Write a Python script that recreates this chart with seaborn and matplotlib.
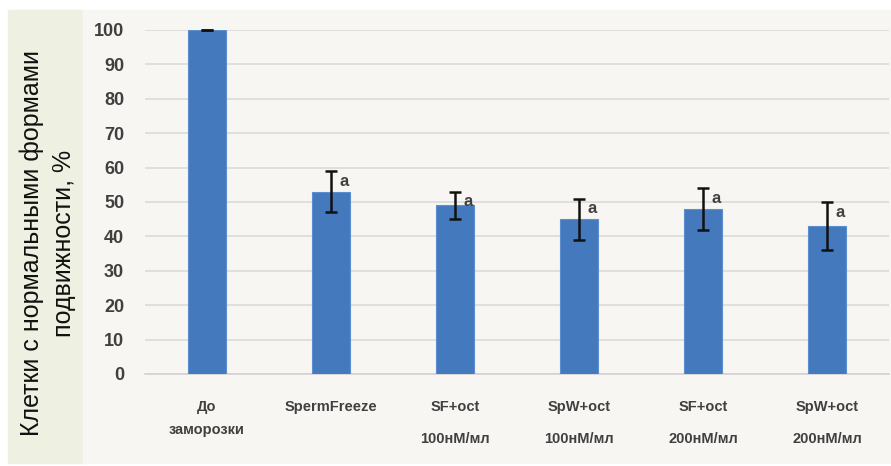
import matplotlib.pyplot as plt
import matplotlib.patches as mpatches
import pandas as pd
import seaborn as sns

# ---- data ----
groups = ["До\nзаморозки", "SpermFreeze", "SF+oct\n100нМ/мл", "SpW+oct\n100нМ/мл",
          "SF+oct\n200нМ/мл", "SpW+oct\n200нМ/мл"]
values = [100, 53, 49, 45, 48, 43]
errors = [0, 6, 4, 6, 6, 7]
marks = ["", "a", "a", "a", "a", "a"]

y_label = "Клетки с нормальными формами\nподвижности, %"
y_ticks = [0, 10, 20, 30, 40, 50, 60, 70, 80, 90, 100]

BAR_COLOR = "#4479bd"
PLOT_BG = "#f7f6f3"
BAND_BG = "#eef0e2"
TEXT_COLOR = "#404040"

df = pd.DataFrame({"group": groups, "value": values, "err": errors})

sns.set_theme(style="white")
plt.rcParams["font.family"] = ["Liberation Sans", "DejaVu Sans"]

fig = plt.figure(figsize=(8.91, 4.66), dpi=100)
fig.patch.set_facecolor("white")

W, H = 891, 466
# светлые подложки как на исходном слайде
fig.patches.append(mpatches.Rectangle((8 / W, 3 / H), 75 / W, 453 / H,
                                      transform=fig.transFigure, color=BAND_BG, zorder=-10))
fig.patches.append(mpatches.Rectangle((83 / W, 3 / H), (W - 83) / W, 453 / H,
                                      transform=fig.transFigure, color=PLOT_BG, zorder=-10))

ax = fig.add_axes([145 / W, 1 - 374 / H, 744 / W, 344 / H])
ax.set_zorder(2)
ax.set_facecolor(PLOT_BG)

sns.barplot(data=df, x="group", y="value", color=BAR_COLOR, width=0.31,
            saturation=1, edgecolor="#5b8fcf", linewidth=0.8, ax=ax, zorder=3)

ax.errorbar(df["group"], df["value"], yerr=df["err"], fmt="none", ecolor="#111111",
            elinewidth=1.8, capsize=4, capthick=1.8, zorder=4, clip_on=False)

# буквы значимости
for i, (v, e, m) in enumerate(zip(values, errors, marks)):
    if m:
        ax.annotate(m, xy=(i, v + e), xytext=(6, -2), textcoords="offset points",
                    ha="left", va="top", fontsize=12, fontweight="bold", color=TEXT_COLOR)

ax.set_ylim(0, 100)
ax.set_xlim(-0.5, 5.5)
ax.set_yticks(y_ticks)
ax.yaxis.grid(True, color="#d9d9d9", linewidth=1.1, zorder=0)
ax.set_axisbelow(True)
for side in ["top", "right", "left"]:
    ax.spines[side].set_visible(False)
ax.spines["bottom"].set_color("#d0d0d0")
ax.spines["bottom"].set_linewidth(1.1)

ax.set_xlabel("")
ax.set_ylabel("")
ax.tick_params(axis="y", length=0, pad=15, labelsize=13, labelcolor=TEXT_COLOR)
ax.tick_params(axis="x", length=0, pad=19, labelsize=10.5, labelcolor=TEXT_COLOR)
for lbl in ax.get_yticklabels():
    lbl.set_fontweight("bold")
for i, lbl in enumerate(ax.get_xticklabels()):
    lbl.set_fontweight("bold")
    lbl.set_linespacing(1.75 if i == 0 else 2.6)

fig.text(48 / W, 1 - 243 / H, y_label, rotation=90, ha="center", va="center",
         fontsize=18, color="#111111", linespacing=1.4)

fig.savefig("out.png", dpi=100, facecolor=fig.get_facecolor())
